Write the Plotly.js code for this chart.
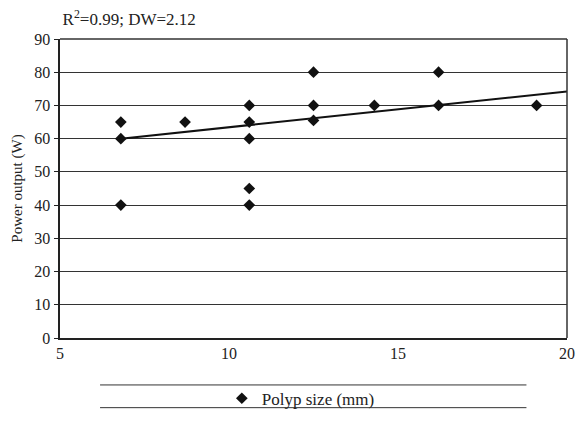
<!DOCTYPE html>
<html>
<head>
<meta charset="utf-8">
<script src="https://cdn.plot.ly/plotly-3.0.1.min.js"></script>
<style>html,body{margin:0;padding:0;background:#fff;}#chart{width:576px;height:426px;}</style>
</head>
<body>
<div id="chart"></div>
<script>
// Data
var polypSize = [6.8, 6.8, 6.8, 8.7, 10.6, 10.6, 10.6, 10.6, 10.6, 12.5, 12.5, 12.5, 14.3, 16.2, 16.2, 19.1];
var powerOutput = [65, 60, 40, 65, 70, 65, 60, 45, 40, 80, 70, 65.5, 70, 80, 70, 70];
var trendX = [6.8, 20];
var trendY = [60, 74.2];
var yTicks = [0, 10, 20, 30, 40, 50, 60, 70, 80, 90];
var xTicks = [5, 10, 15, 20];

var fam = 'Liberation Serif';
var font = {family: fam, color: '#222', size: 16};

var traces = [
  {
    x: polypSize, y: powerOutput, type: 'scatter', mode: 'markers',
    name: 'Polyp size (mm)',
    marker: {symbol: 'diamond', size: 9, color: '#111'},
    cliponaxis: false
  },
  {
    x: trendX, y: trendY, type: 'scatter', mode: 'lines',
    line: {color: '#111', width: 2}, showlegend: false, hoverinfo: 'skip'
  }
];

var layout = {
  width: 576, height: 426,
  margin: {l: 60, r: 9, t: 39, b: 82},
  paper_bgcolor: '#fff', plot_bgcolor: '#fff',
  font: font,
  title: {
    text: 'R<sup>2</sup>=0.99; DW=2.12',
    font: {family: fam, size: 17, color: '#222'},
    xref: 'paper', x: 0.005, xanchor: 'left',
    yref: 'container', y: 0.955, yanchor: 'middle'
  },
  xaxis: {
    range: [5, 20], tickvals: xTicks, ticks: '', showgrid: false, zeroline: false,
    showline: true, linecolor: '#222', linewidth: 2, mirror: false,
    tickfont: {family: fam, size: 16, color: '#222'}
  },
  yaxis: {
    range: [0, 90], tickvals: yTicks, ticks: 'outside', ticklen: 4, tickcolor: '#222',
    showgrid: true, gridcolor: '#333', gridwidth: 1, zeroline: false,
    showline: true, linecolor: '#222', linewidth: 2.5, mirror: false,
    tickfont: {family: fam, size: 16, color: '#222'},
    title: {text: 'Power output (W)', font: {family: fam, size: 15, color: '#222'}, standoff: 8}
  },
  showlegend: true,
  legend: {
    orientation: 'h', x: 0.475, xanchor: 'center', y: -0.203, yanchor: 'middle',
    font: {family: fam, size: 17, color: '#222'}, bgcolor: 'rgba(0,0,0,0)',
    itemwidth: 30
  },
  shapes: [
    {type: 'line', xref: 'paper', yref: 'paper', x0: 0, x1: 1, y0: 1, y1: 1, line: {color: '#333', width: 1.5}},
    {type: 'line', xref: 'paper', yref: 'paper', x0: 1, x1: 1, y0: 0, y1: 1, line: {color: '#333', width: 1.5}},
    {type: 'line', xref: 'paper', yref: 'paper', x0: 0.079, x1: 0.92, y0: -0.157, y1: -0.157, line: {color: '#333', width: 1}},
    {type: 'line', xref: 'paper', yref: 'paper', x0: 0.079, x1: 0.92, y0: -0.233, y1: -0.233, line: {color: '#333', width: 1}}
  ]
};

Plotly.newPlot('chart', traces, layout, {displayModeBar: false, staticPlot: true});
</script>
</body>
</html>
